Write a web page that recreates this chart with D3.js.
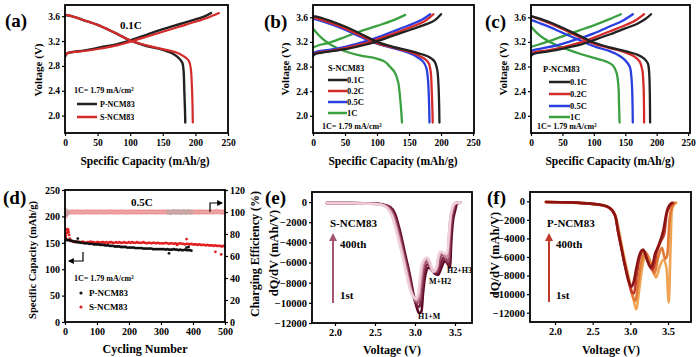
<!DOCTYPE html>
<html>
<head>
<meta charset="utf-8">
<script src="https://cdn.jsdelivr.net/npm/d3@7"></script>
<style>
  body { margin: 0; background: #fff; }
</style>
</head>
<body>
<svg id="fig" width="700" height="357"></svg>
<script>
// ---------- (a) 0.1C, P vs S  [capacity mAh/g, voltage V] ----------
const aP_chg = [[0,2.95],[3,3.0],[10,3.02],[30,3.05],[55,3.1],[80,3.15],[100,3.21],[125,3.3],[150,3.39],[175,3.47],[200,3.55],[215,3.6],[224,3.65]];
const aP_dis = [[0,3.62],[10,3.6],[30,3.53],[50,3.46],[75,3.34],[100,3.21],[125,3.12],[150,3.06],[165,3.0],[175,2.92],[180,2.85],[182,2.7],[183,2.4],[184,2.1],[184.5,1.89]];
const aS_chg = [[0,2.95],[3,3.0],[10,3.02],[30,3.04],[55,3.08],[80,3.13],[100,3.19],[125,3.27],[150,3.35],[175,3.43],[200,3.51],[220,3.58],[236,3.65]];
const aS_dis = [[0,3.62],[10,3.6],[30,3.53],[50,3.46],[75,3.34],[100,3.21],[125,3.13],[150,3.07],[170,3.02],[183,2.95],[190,2.88],[193,2.75],[194.5,2.5],[195.5,2.2],[196,1.89]];

// ---------- (b) S-NCM83 rate ----------
const bRates = ["0.1C", "0.2C", "0.5C", "1C"];
const bChg = [
  [[0,2.97],[3,3.0],[10,3.02],[30,3.05],[55,3.09],[80,3.15],[100,3.21],[125,3.3],[150,3.39],[175,3.48],[190,3.55],[200,3.65]],
  [[0,3.0],[5,3.02],[25,3.05],[50,3.1],[75,3.16],[100,3.24],[125,3.33],[150,3.43],[175,3.54],[188,3.65]],
  [[0,3.02],[5,3.04],[25,3.07],[50,3.12],[75,3.19],[100,3.27],[125,3.37],[150,3.47],[170,3.56],[183,3.65]],
  [[0,3.11],[10,3.15],[26,3.19],[50,3.28],[73,3.37],[100,3.46],[125,3.55],[144,3.64]]
];
const bDis = [
  [[0,3.62],[10,3.6],[30,3.53],[50,3.45],[75,3.33],[100,3.2],[125,3.12],[150,3.06],[170,3.0],[182,2.95],[190,2.88],[194,2.75],[196,2.5],[197,2.2],[197.5,1.89]],
  [[0,3.6],[10,3.57],[30,3.5],[50,3.42],[75,3.3],[100,3.18],[125,3.11],[150,3.04],[165,2.98],[175,2.92],[181,2.85],[184,2.7],[185.5,2.4],[186.5,2.1],[187,1.89]],
  [[0,3.58],[10,3.55],[30,3.48],[50,3.4],[75,3.28],[100,3.17],[125,3.1],[150,3.02],[162,2.96],[172,2.88],[177,2.78],[179.5,2.6],[181,2.3],[182,1.89]],
  [[0,3.42],[8,3.32],[16,3.24],[27,3.16],[47,3.06],[73,2.98],[99,2.93],[112,2.88],[120,2.8],[128,2.7],[133,2.55],[136,2.3],[138,2.05],[139,1.89]]
];

// ---------- (c) P-NCM83 rate ----------
const cChg = [
  [[0,2.97],[3,3.0],[10,3.02],[30,3.05],[55,3.1],[80,3.16],[100,3.23],[125,3.32],[150,3.42],[170,3.5],[183,3.58],[191,3.65]],
  [[0,3.0],[5,3.03],[25,3.06],[50,3.11],[75,3.18],[100,3.27],[125,3.37],[150,3.47],[168,3.56],[180,3.65]],
  [[0,3.05],[5,3.07],[25,3.11],[50,3.17],[75,3.25],[100,3.34],[125,3.45],[145,3.54],[162,3.65]],
  [[0,3.12],[10,3.15],[25,3.2],[50,3.29],[75,3.38],[100,3.47],[125,3.57],[143,3.65]]
];
const cDis = [
  [[0,3.62],[10,3.59],[30,3.52],[50,3.43],[75,3.31],[100,3.19],[125,3.11],[150,3.05],[170,2.99],[180,2.93],[186,2.85],[188,2.7],[189,2.4],[189.5,1.89]],
  [[0,3.62],[10,3.58],[30,3.5],[50,3.41],[75,3.29],[100,3.17],[125,3.1],[150,3.03],[165,2.96],[173,2.88],[177,2.75],[179,2.5],[180,1.89]],
  [[0,3.56],[10,3.52],[30,3.44],[50,3.35],[75,3.24],[100,3.13],[125,3.05],[140,2.98],[150,2.9],[157,2.8],[160,2.6],[162,1.89]],
  [[0,3.45],[8,3.36],[20,3.26],[40,3.15],[60,3.07],[80,3.0],[100,2.94],[120,2.88],[130,2.82],[136,2.7],[139,2.5],[140,2.2],[141,1.89]]
];
const rateColors = ["#222222", "#d42a2a", "#2a3fe0", "#3aa040"];

// ---------- (d) cycling, 0.5C ----------
// capacity sampled every 5 cycles starting at cycle 20
const sCapEarly = [[1,158],[2,160],[3,163],[5,168],[6,174],[7,176],[9,172],[10,175],[11,170],[13,165],[15,158],[17,154]];
const sCap = [153,152,152,151,152,151,151,152,151,150,151,151,152,151,151,150,151,
  151,150,151,151,150,151,150,151,151,150,150,151,150,151,150,150,151,150,150,151,
  150,151,150,150,151,150,150,150,151,150,149,150,150,149,150,150,149,150,149,149,
  149,149,150,149,148,149,149,148,149,148,148,149,148,148,147,148,148,147,148,147,
  147,147,146,147,146,146,146,145,146,145,145,145,144,145,144,144,144,143,144,143];
const sCapOut = [[380,157],[350,146],[470,133],[488,128]];
const pCapEarly = [[1,155],[3,157],[5,156],[8,155],[12,155],[16,154],[40,158]];
const pCap = [154,153,152,152,151,151,150,150,149,149,149,148,148,148,147,147,147,
  147,146,146,146,145,145,145,144,144,144,143,143,143,143,142,142,142,142,141,141,
  141,141,141,140,140,140,140,140,139,139,139,139,139,139,138,138,138,138,138,138,
  138,138,137,138,137,137,137,138,137,137,136,137,136,136,137,136,136,136,135];
const pCapOut = [[325,130],[380,141],[386,142]];
// charging efficiency (%), every 5 cycles from cycle 5
const sEffEarly = [[1,96],[2,97.5],[3,98.5],[4,101]];
const sEff = [99.2,99.6,100.1,99.8,100.2,99.9,100.0,100.3,99.7,100.1,
  100.0,99.8,100.2,100.1,99.9,100.0,100.2,99.8,100.1,100.0,
  99.9,100.2,100.0,99.8,100.1,100.0,99.9,100.2,100.1,99.9,
  100.0,100.1,99.8,100.0,100.2,99.9,100.1,100.0,99.8,100.1,
  100.0,99.9,100.2,100.0,99.9,100.1,100.0,99.8,100.1,100.0,
  99.9,100.1,100.2,99.9,100.0,100.1,99.8,100.0,100.1,99.9,
  100.0,100.2,99.9,100.1,100.0,99.8,100.1,100.0,100.2,99.9,
  100.1,100.0,99.9,100.2,100.0,99.9,100.1,100.0,99.8,100.1,
  100.0,100.1,99.9,100.0,100.2,99.9,100.0,100.1,99.9,100.0,
  100.2,99.9,100.1,100.0,100.8,99.9,100.0,100.1,99.9,100.0];
const pEff = [[3,100.5],[8,99],[322,100],[330,99.5],[338,100.3],[346,99.8],[354,100.2],[362,99.6],[370,100.1],[378,99.8],[386,100.4],[394,99.9]];

// ---------- (e) dQ/dV S-NCM83, 1st -> 400th [V, mAh/V] ----------
const eCurves = [
  [[1.9,-100],[2.2,-100],[2.5,-150],[2.6,-250],[2.69,-500],[2.75,-1150],[2.81,-2800],[2.875,-5100],[2.94,-7400],[2.98,-9100],[3.02,-10400],[3.05,-11000],[3.08,-10900],[3.1,-9100],[3.125,-7400],[3.17,-6500],[3.21,-6700],[3.25,-7100],[3.29,-7200],[3.33,-6500],[3.375,-5800],[3.42,-6300],[3.44,-6500],[3.45,-4500],[3.47,-2150],[3.5,-900],[3.53,-100],[3.56,-50]],
  [[1.9,-100],[2.2,-100],[2.5,-160],[2.6,-270],[2.68,-520],[2.74,-1200],[2.8,-2850],[2.865,-5100],[2.93,-7400],[2.97,-9000],[3.01,-10000],[3.04,-10400],[3.07,-10100],[3.09,-8700],[3.115,-7000],[3.16,-6200],[3.2,-6500],[3.24,-7000],[3.28,-7000],[3.32,-6100],[3.36,-5500],[3.4,-6000],[3.43,-6200],[3.44,-4300],[3.46,-2000],[3.49,-800],[3.52,-100],[3.56,-50]],
  [[1.9,-100],[2.2,-110],[2.5,-170],[2.6,-290],[2.67,-540],[2.73,-1250],[2.79,-2900],[2.855,-5100],[2.92,-7400],[2.96,-8900],[3.0,-9700],[3.03,-10000],[3.06,-9700],[3.08,-8300],[3.105,-6700],[3.15,-5900],[3.19,-6300],[3.23,-6900],[3.27,-6900],[3.31,-5700],[3.35,-5200],[3.39,-5700],[3.42,-5900],[3.43,-4100],[3.45,-1900],[3.48,-700],[3.51,-100],[3.56,-50]],
  [[1.9,-100],[2.2,-110],[2.5,-180],[2.6,-300],[2.66,-560],[2.72,-1300],[2.78,-2950],[2.845,-5100],[2.91,-7400],[2.95,-8800],[2.99,-9500],[3.02,-9800],[3.05,-9400],[3.07,-8000],[3.095,-6400],[3.14,-5700],[3.18,-6100],[3.22,-6900],[3.26,-6800],[3.3,-5300],[3.34,-5000],[3.38,-5400],[3.41,-5500],[3.42,-3900],[3.44,-1800],[3.47,-600],[3.5,-100],[3.57,-50]],
  [[1.9,-100],[2.2,-120],[2.5,-200],[2.6,-320],[2.65,-600],[2.71,-1350],[2.77,-3000],[2.835,-5100],[2.9,-7400],[2.94,-8700],[2.98,-9400],[3.01,-9600],[3.04,-9100],[3.06,-7700],[3.09,-6100],[3.15,-5500],[3.19,-6000],[3.23,-6900],[3.27,-6500],[3.3,-5100],[3.33,-4900],[3.37,-5100],[3.4,-5100],[3.42,-3700],[3.44,-1700],[3.47,-500],[3.51,-80],[3.58,-30]]
];
const eColors = ["#5a0a22", "#7a2240", "#9c4a66", "#c98a9e", "#f0cfd9"];

// ---------- (f) dQ/dV P-NCM83, 1st -> 400th ----------
const fCurves = [
  [[1.88,-80],[2.2,-150],[2.5,-300],[2.62,-420],[2.72,-700],[2.8,-1500],[2.85,-3200],[2.9,-5300],[2.95,-7200],[3.0,-9000],[3.04,-10500],[3.08,-11650],[3.11,-10000],[3.15,-7500],[3.22,-5700],[3.28,-6900],[3.34,-8200],[3.39,-7000],[3.44,-6300],[3.48,-7200],[3.51,-10900],[3.53,-6000],[3.55,-1000],[3.58,-300],[3.61,-150]],
  [[1.88,-80],[2.2,-140],[2.5,-290],[2.62,-410],[2.72,-700],[2.8,-1550],[2.845,-3300],[2.89,-5300],[2.94,-7100],[2.99,-8900],[3.03,-10200],[3.07,-10700],[3.1,-9000],[3.14,-6800],[3.2,-5500],[3.27,-6800],[3.32,-7800],[3.37,-6000],[3.42,-5000],[3.46,-6200],[3.49,-5800],[3.52,-2000],[3.55,-700],[3.59,-200]],
  [[1.88,-80],[2.2,-130],[2.5,-280],[2.62,-400],[2.72,-710],[2.8,-1600],[2.84,-3400],[2.885,-5200],[2.93,-7000],[2.98,-8700],[3.02,-9800],[3.05,-9900],[3.08,-8200],[3.12,-6200],[3.18,-5300],[3.25,-6900],[3.3,-7400],[3.35,-5500],[3.41,-4200],[3.45,-3500],[3.48,-1500],[3.52,-600],[3.57,-150]],
  [[1.88,-70],[2.2,-120],[2.5,-280],[2.62,-400],[2.73,-720],[2.8,-1600],[2.84,-3400],[2.885,-5200],[2.93,-7000],[2.97,-8400],[3.01,-9200],[3.04,-8800],[3.08,-7200],[3.12,-5800],[3.17,-5200],[3.22,-6300],[3.28,-7150],[3.33,-5600],[3.37,-4840],[3.44,-3050],[3.48,-1250],[3.5,-700],[3.55,-180]]
];
const fColors = ["#eea453", "#e07a35", "#c0392b", "#8a1414"];

// ---------- tick values ----------
const capTicks = [0, 50, 100, 150, 200, 250];
const voltTicks = [2.0, 2.4, 2.8, 3.2, 3.6];
const cycTicks = [0, 100, 200, 300, 400, 500];
const cycCapTicks = [0, 50, 100, 150, 200, 250];
const effTicks = [0, 20, 40, 60, 80, 100, 120];
const dqTicks = [2.0, 2.5, 3.0, 3.5];
const dqYTicks = [0, -2000, -4000, -6000, -8000, -10000, -12000];

const FONT = '"Liberation Serif", "Times New Roman", serif';
const svg = d3.select("#fig");
const defs = svg.append("defs");
function marker(id, color, refX, size) {
  defs.append("marker").attr("id", id).attr("viewBox", "0 0 10 10").attr("refX", refX).attr("refY", 5)
    .attr("markerWidth", size).attr("markerHeight", size).attr("orient", "auto")
    .append("path").attr("d", "M0,0L10,5L0,10z").attr("fill", color);
}
marker("arrE", "#a35670", 5, 4);
marker("arrF", "#c0392b", 5, 4);
marker("arrK", "#000", 8, 5);

let clipN = 0;
function panel(box, xDom, yDom, xTicks, yTicks, xFmt, yFmt, tickSize) {
  const x = d3.scaleLinear().domain(xDom).range([box.x0, box.x1]);
  const y = d3.scaleLinear().domain(yDom).range([box.y1, box.y0]);
  const g = svg.append("g");
  const id = "clip" + (clipN++);
  defs.append("clipPath").attr("id", id).append("rect")
    .attr("x", box.x0).attr("y", box.y0).attr("width", box.x1 - box.x0).attr("height", box.y1 - box.y0);
  const plot = g.append("g").attr("clip-path", `url(#${id})`);

  const ax = g.append("g").attr("transform", `translate(0,${box.y1})`)
    .call(d3.axisBottom(x).tickValues(xTicks).tickSize(3).tickPadding(3).tickFormat(xFmt));
  const ay = g.append("g").attr("transform", `translate(${box.x0},0)`)
    .call(d3.axisLeft(y).tickValues(yTicks).tickSize(3).tickPadding(2).tickFormat(yFmt));
  [ax, ay].forEach(a => {
    a.attr("font-family", FONT).attr("font-weight", "bold");
    a.select(".domain").remove();
    a.selectAll("text").style("font-size", tickSize + "px");
    a.selectAll("line").attr("stroke-width", 1.2);
  });
  g.append("rect")
    .attr("x", box.x0).attr("y", box.y0).attr("width", box.x1 - box.x0).attr("height", box.y1 - box.y0)
    .attr("fill", "none").attr("stroke", "#000").attr("stroke-width", 1.8);
  return { x, y, g, plot };
}

function txt(x, y, s, size, opts = {}) {
  const t = svg.append("text").attr("x", x).attr("y", y)
    .attr("font-family", FONT).attr("font-weight", "bold")
    .style("font-size", size + "px").attr("fill", opts.fill || "#000")
    .attr("text-anchor", opts.anchor || "start").text(s);
  if (opts.rotate) t.attr("transform", `rotate(-90,${x},${y})`).attr("text-anchor", "middle");
  return t;
}

const line = (p, data, color, w) => p.plot.append("path").datum(data)
  .attr("fill", "none").attr("stroke", color).attr("stroke-width", w)
  .attr("stroke-linejoin", "round").attr("stroke-linecap", "round")
  .attr("d", d3.line().x(d => p.x(d[0])).y(d => p.y(d[1])).curve(d3.curveMonotoneX));
const lineV = (p, data, color, w) => p.plot.append("path").datum(data)
  .attr("fill", "none").attr("stroke", color).attr("stroke-width", w)
  .attr("stroke-linejoin", "round").attr("stroke-linecap", "round")
  .attr("d", d3.line().x(d => p.x(d[0])).y(d => p.y(d[1])).curve(d3.curveCatmullRom.alpha(0.5)));

const f1 = d3.format(".1f");
const fInt = d3.format("d");

// ===== (a) =====
const pa = panel({ x0: 65, x1: 228, y0: 5, y1: 133 }, [0, 250], [1.72, 3.78], capTicks, voltTicks, fInt, f1, 9.5);
lineV(pa, aP_chg, rateColors[0], 2.4);
lineV(pa, aP_dis, rateColors[0], 2.4);
lineV(pa, aS_chg, "#d42a2a", 2.2);
lineV(pa, aS_dis, "#d42a2a", 2.2);
txt(120, 29, "0.1C", 11);
txt(74, 93, "1C= 1.79 mA/cm²", 8);
svg.append("line").attr("x1", 77).attr("x2", 97).attr("y1", 104).attr("y2", 104).attr("stroke", "#222").attr("stroke-width", 2.5);
txt(100, 107, "P-NCM83", 8);
svg.append("line").attr("x1", 77).attr("x2", 97).attr("y1", 117).attr("y2", 117).attr("stroke", "#d42a2a").attr("stroke-width", 2.5);
txt(100, 120, "S-NCM83", 8);
txt(42, 70, "Voltage (V)", 11, { rotate: true });
txt(145, 165, "Specific Capacity (mAh/g)", 11.5, { anchor: "middle" });
txt(5, 27, "(a)", 19);

// ===== (b) =====
const pb = panel({ x0: 313, x1: 474, y0: 5, y1: 133 }, [0, 251.5], [1.72, 3.8], capTicks, voltTicks, fInt, f1, 9.5);
for (let i = 3; i >= 0; i--) {
  lineV(pb, bChg[i], rateColors[i], 2.3);
  lineV(pb, bDis[i], rateColors[i], 2.3);
}
txt(328, 71, "S-NCM83", 8.5);
bRates.forEach((r, i) => {
  const yy = [80, 91, 102, 113][i];
  svg.append("line").attr("x1", 328).attr("x2", 347).attr("y1", yy).attr("y2", yy).attr("stroke", rateColors[i]).attr("stroke-width", 2.5);
  txt(347, yy + 3, r, 8.5);
});
txt(322, 129, "1C= 1.79 mA/cm²", 8);
txt(289, 69, "Voltage (V)", 11, { rotate: true });
txt(393, 165, "Specific Capacity (mAh/g)", 11.5, { anchor: "middle" });
txt(264, 28, "(b)", 19);

// ===== (c) =====
const pc = panel({ x0: 531, x1: 690, y0: 5, y1: 133 }, [0, 253], [1.72, 3.8], capTicks, voltTicks, fInt, f1, 9.5);
for (let i = 3; i >= 0; i--) {
  lineV(pc, cChg[i], rateColors[i], 2.3);
  lineV(pc, cDis[i], rateColors[i], 2.3);
}
txt(543, 72, "P-NCM83", 8.5);
bRates.forEach((r, i) => {
  const yy = [82, 94, 106, 117][i];
  svg.append("line").attr("x1", 549).attr("x2", 570).attr("y1", yy).attr("y2", yy).attr("stroke", rateColors[i]).attr("stroke-width", 2.5);
  txt(570, yy + 3, r, 8.5);
});
txt(537, 129, "1C= 1.79 mA/cm²", 8);
txt(507, 69, "Voltage (V)", 11, { rotate: true });
txt(610, 165, "Specific Capacity (mAh/g)", 11.5, { anchor: "middle" });
txt(485, 28, "(c)", 19);

// ===== (d) =====
const pd = panel({ x0: 65, x1: 225, y0: 190, y1: 322 }, [0, 500], [0, 250], cycTicks, cycCapTicks, fInt, fInt, 10);
const yEff = d3.scaleLinear().domain([0, 120]).range([322, 190]);
const ayR = svg.append("g").attr("transform", "translate(225,0)")
  .call(d3.axisRight(yEff).tickValues(effTicks).tickSize(3).tickPadding(2));
ayR.attr("font-family", FONT).attr("font-weight", "bold");
ayR.select(".domain").remove();
ayR.selectAll("text").style("font-size", "10px");
ayR.selectAll("line").attr("stroke-width", 1.2);

const sEffPts = sEffEarly.concat(sEff.map((v, i) => [5 + i * 5, v]));
pd.plot.selectAll(".effS").data(sEffPts).join("circle")
  .attr("cx", d => pd.x(d[0])).attr("cy", d => yEff(d[1])).attr("r", 2)
  .attr("fill", "none").attr("stroke", "#e87878").attr("stroke-width", 0.7);
pd.plot.selectAll(".effP").data(pEff).join("circle")
  .attr("cx", d => pd.x(d[0])).attr("cy", d => yEff(d[1])).attr("r", 2.2)
  .attr("fill", "none").attr("stroke", "#b0a8a8").attr("stroke-width", 0.8);

const pCapPts = pCapEarly.concat(pCap.map((v, i) => [20 + i * 5, v])).concat(pCapOut);
const sCapPts = sCapEarly.concat(sCap.map((v, i) => [20 + i * 5, v])).concat(sCapOut);
pd.plot.selectAll(".capS").data(sCapPts).join("circle")
  .attr("cx", d => pd.x(d[0])).attr("cy", d => pd.y(d[1])).attr("r", 1.4).attr("fill", "#e02020");
pd.plot.selectAll(".capP").data(pCapPts).join("circle")
  .attr("cx", d => pd.x(d[0])).attr("cy", d => pd.y(d[1])).attr("r", 1.4).attr("fill", "#111");

// bracket arrows
svg.append("path").attr("d", "M83,252 V261 H69").attr("fill", "none").attr("stroke", "#000").attr("stroke-width", 1.2).attr("marker-end", "url(#arrK)");
svg.append("path").attr("d", "M210,212 V203 H222").attr("fill", "none").attr("stroke", "#000").attr("stroke-width", 1.2).attr("marker-end", "url(#arrK)");
txt(131, 206, "0.5C", 11);
txt(74, 281, "1C= 1.79 mA/cm²", 8);
svg.append("circle").attr("cx", 81).attr("cy", 293).attr("r", 1.6).attr("fill", "#111");
txt(89, 296, "P-NCM83", 9);
svg.append("circle").attr("cx", 81).attr("cy", 307).attr("r", 1.6).attr("fill", "#e02020");
txt(89, 310, "S-NCM83", 9);
txt(36, 260, "Specific Capacity (mAh/g)", 10.5, { rotate: true });
txt(259, 254, "Charging Efficiency (%)", 12, { rotate: true });
txt(145, 353, "Cycling Number", 12, { anchor: "middle" });
txt(3, 204, "(d)", 19);

// ===== (e) =====
const pe = panel({ x0: 312, x1: 472, y0: 192, y1: 323 }, [1.7125, 3.7125], [-12000, 1000], dqTicks, dqYTicks, f1, fInt, 10.5);
eCurves.forEach((c, i) => line(pe, c, eColors[i], 2.6));
txt(330, 227, "S-NCM83", 11);
svg.append("line").attr("x1", 333).attr("x2", 333).attr("y1", 303).attr("y2", 237)
  .attr("stroke", "#a35670").attr("stroke-width", 2).attr("marker-end", "url(#arrE)");
txt(340, 248, "400th", 11);
txt(340, 299, "1st", 11);
txt(418, 319, "H1+M", 8);
txt(429, 284, "M+H2", 8);
txt(447, 273, "H2+H3", 8);
txt(278, 253, "dQ/dV (mAh/V)", 12.5, { rotate: true });
txt(392, 354, "Voltage (V)", 12, { anchor: "middle" });
txt(265, 204, "(e)", 19);

// ===== (f) =====
const pf = panel({ x0: 530, x1: 691, y0: 192, y1: 322 }, [1.668, 3.805], [-13000, 1000], dqTicks, dqYTicks, f1, fInt, 10.5);
fCurves.forEach((c, i) => line(pf, c, fColors[i], 2.6));
txt(547, 227, "P-NCM83", 11);
svg.append("line").attr("x1", 549).attr("x2", 549).attr("y1", 302).attr("y2", 237)
  .attr("stroke", "#c0392b").attr("stroke-width", 2).attr("marker-end", "url(#arrF)");
txt(556, 248, "400th", 11);
txt(556, 299, "1st", 11);
txt(499, 255, "dQ/dV (mAh/V)", 12.5, { rotate: true });
txt(611, 354, "Voltage (V)", 12, { anchor: "middle" });
txt(487, 204, "(f)", 19);
</script>
</body>
</html>
